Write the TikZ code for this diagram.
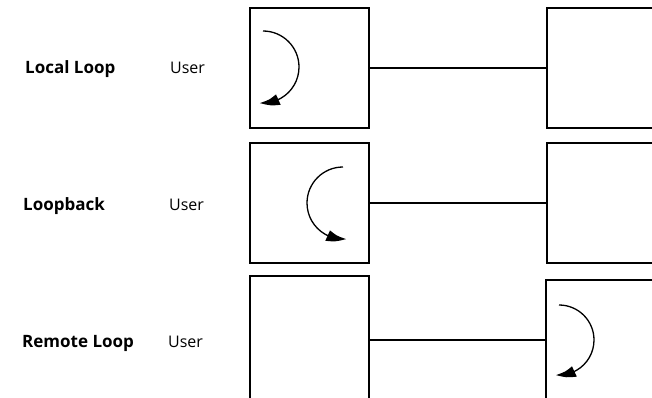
\documentclass[tikz,border=0pt]{standalone}
\usepackage{fontspec}
\setmainfont{Open Sans}
\usetikzlibrary{arrows.meta,bending}
\begin{document}
\begin{tikzpicture}[x=1pt,y=1pt,
  box/.style={draw,line width=1.4pt,inner sep=0pt,minimum width=#1},
  loop/.style={line width=1.3pt,-{Triangle[length=19pt,width=11pt,bend]}},
  wire/.style={line width=1.3pt},
  lbl/.style={anchor=base west,inner sep=0pt,font=\fontsize{17}{20}\selectfont\bfseries},
  usr/.style={anchor=base west,inner sep=0pt,font=\fontsize{16}{19}\selectfont}]
\useasboundingbox (0,0) rectangle (652,397);
% row 1
\node[box=119pt,minimum height=120pt] (l1) at (309.5,329) {};
\node[box=133pt,minimum height=120pt] (r1) at (613.5,329) {};
\draw[wire] (l1.east) -- (r1.west);
\draw[loop] (263,366) arc[start angle=90,end angle=-95,radius=36];
\node[lbl] (t1) at (25,323) {Local Loop};
\node[usr] (u1) at (170,323) {User};
% row 2
\node[box=119pt,minimum height=120pt] (l2) at (309.5,194) {};
\node[box=133pt,minimum height=120pt] (r2) at (613.5,194) {};
\draw[wire] (l2.east) -- (r2.west);
\draw[loop] (343,230) arc[start angle=90,end angle=275,radius=36];
\node[lbl] (t2) at (23,187) {Loopback};
\node[usr] (u2) at (169,187) {User};
% row 3
\node[box=119pt,minimum height=144pt] (l3) at (309.5,49) {};
\node[box=134pt,minimum height=140pt] (r3) at (613,47) {};
\coordinate (c3) at (0,57);
\draw[wire] (l3.east |- c3) -- (r3.west |- c3);
\draw[loop] (559,92) arc[start angle=90,end angle=-95,radius=35];
\node[lbl] (t3) at (22,50) {Remote Loop};
\node[usr] (u3) at (168,50) {User};
\end{tikzpicture}
\end{document}
